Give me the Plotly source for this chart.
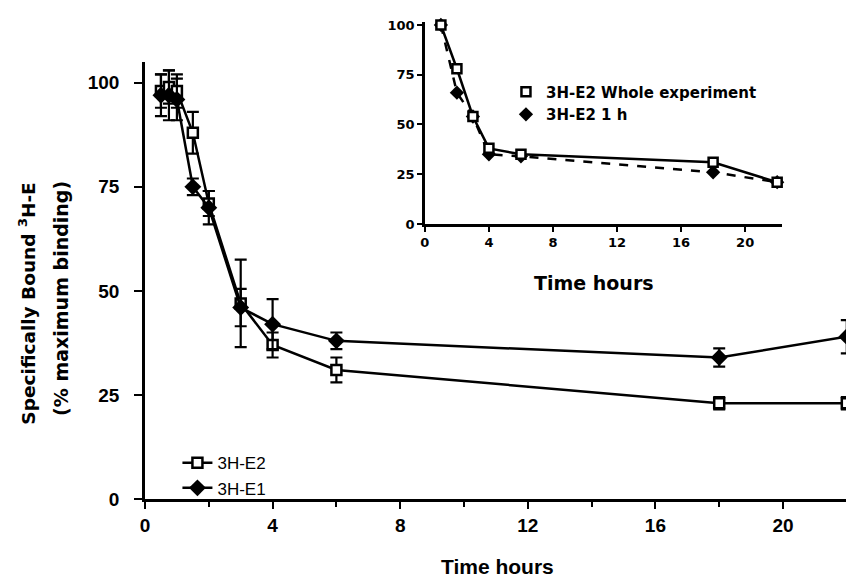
import plotly.graph_objects as go

# Main chart data
time_main = [0.5, 0.75, 1.0, 1.5, 2.0, 3.0, 4.0, 6.0, 18.0, 22.0]
e2_vals = [98, 99, 98, 88, 71, 47, 37, 31, 23, 23]
e2_err = [4, 4, 4, 5, 3, 10.5, 3, 3, 1.5, 1.5]
e1_vals = [97, 97, 96, 75, 70, 46, 42, 38, 34, 39]
e1_err = [5, 6, 5, 2, 4, 4.5, 6, 2, 2.2, 4]

# Inset data
time_inset = [1, 2, 3, 4, 6, 18, 22]
whole_vals = [100, 78, 54, 38, 35, 31, 21]
one_h_vals = [100, 66, 54, 35, 34, 26, 21]

FONT = "Liberation Sans, Arial, sans-serif"
WIDE = "DejaVu Sans, Verdana, sans-serif"

fig = go.Figure()

fig.add_trace(go.Scatter(
    x=time_main, y=e2_vals, name="3H-E2", mode="lines+markers",
    line=dict(color="black", width=2.5),
    marker=dict(symbol="square", size=10, color="white", line=dict(color="black", width=2.5)),
    error_y=dict(type="data", array=e2_err, color="black", thickness=2.2, width=6),
    cliponaxis=False, legend="legend",
))
fig.add_trace(go.Scatter(
    x=time_main, y=e1_vals, name="3H-E1", mode="lines+markers",
    line=dict(color="black", width=2.5),
    marker=dict(symbol="diamond", size=13, color="black"),
    error_y=dict(type="data", array=e1_err, color="black", thickness=2.2, width=6),
    cliponaxis=False, legend="legend",
))

# Inset traces
fig.add_trace(go.Scatter(
    x=time_inset, y=one_h_vals, mode="lines+markers", showlegend=False,
    line=dict(color="black", width=2.5, dash="dash"),
    marker=dict(symbol="diamond", size=11, color="black"),
    xaxis="x2", yaxis="y2", cliponaxis=False,
))
fig.add_trace(go.Scatter(
    x=time_inset, y=whole_vals, mode="lines+markers", showlegend=False,
    line=dict(color="black", width=2.5),
    marker=dict(symbol="square", size=9, color="white", line=dict(color="black", width=2.5)),
    xaxis="x2", yaxis="y2", cliponaxis=False,
))
# Inset legend entries
fig.add_trace(go.Scatter(
    x=[None], y=[None], mode="markers", name="3H-E2 Whole experiment",
    marker=dict(symbol="square", size=9, color="white", line=dict(color="black", width=2.5)),
    xaxis="x2", yaxis="y2", legend="legend2",
))
fig.add_trace(go.Scatter(
    x=[None], y=[None], mode="markers", name="3H-E2 1 h",
    marker=dict(symbol="diamond", size=11, color="black"),
    xaxis="x2", yaxis="y2", legend="legend2",
))

axis_common = dict(showline=True, linecolor="black", linewidth=2.5, ticks="outside",
                   tickcolor="black", tickwidth=2, showgrid=False, zeroline=False,
                   automargin=False)

fig.update_layout(
    width=846, height=572,
    margin=dict(l=137, r=4, t=2, b=81),
    paper_bgcolor="white", plot_bgcolor="white",
    font=dict(family=FONT, color="black"),
    xaxis=dict(**axis_common, domain=[0, 1], range=[0, 22.1], tickvals=[0, 4, 8, 12, 16, 20],
               ticklen=7, tickfont=dict(size=19, family=FONT, weight="bold"),
               minor=dict(dtick=2, ticks="outside", ticklen=5, tickwidth=2, tickcolor="black"),
               anchor="y"),
    yaxis=dict(**axis_common, domain=[0, 0.8937], range=[0, 105], tickvals=[0, 25, 50, 75, 100],
               ticklen=8, ticklabelstandoff=11,
               tickfont=dict(size=19, family=FONT, weight="bold"), anchor="x"),
    xaxis2=dict(**axis_common, domain=[0.397, 0.9035], range=[0, 22.3], tickvals=[0, 4, 8, 12, 16, 20],
                ticklen=5, tickfont=dict(size=13, family=WIDE, weight="bold"), anchor="y2"),
    yaxis2=dict(**axis_common, domain=[0.5624, 0.9755], range=[0, 101.5], tickvals=[0, 25, 50, 75, 100],
                ticklen=5, tickfont=dict(size=13, family=WIDE, weight="bold"), anchor="x2"),
    legend=dict(x=0.046, y=0.11, xanchor="left", yanchor="top", bgcolor="rgba(0,0,0,0)",
                font=dict(size=17, family=FONT), tracegroupgap=0, itemwidth=30),
    legend2=dict(x=0.512, y=0.866, xanchor="left", yanchor="top", bgcolor="rgba(0,0,0,0)",
                 font=dict(size=15, family=WIDE, weight="bold"), itemwidth=30),
    annotations=[
        dict(text="<b>Specifically Bound <sup>3</sup>H-E</b>",
             textangle=-90, xref="paper", yref="paper", x=-0.167, y=0.4,
             xanchor="center", yanchor="middle", showarrow=False,
             font=dict(size=18.5, family=WIDE)),
        dict(text="<b>(% maximum binding)</b>",
             textangle=-90, xref="paper", yref="paper", x=-0.12, y=0.41,
             xanchor="center", yanchor="middle", showarrow=False,
             font=dict(size=19, family=WIDE)),
        dict(text="<b>Time hours</b>", xref="paper", yref="paper", x=0.5, y=-0.139,
             xanchor="center", yanchor="middle", showarrow=False,
             font=dict(size=21, family=FONT)),
        dict(text="<b>Time hours</b>", xref="paper", yref="paper", x=0.637, y=0.4417,
             xanchor="center", yanchor="middle", showarrow=False,
             font=dict(size=19, family=WIDE)),
    ],
)

fig.write_html("out.html")
